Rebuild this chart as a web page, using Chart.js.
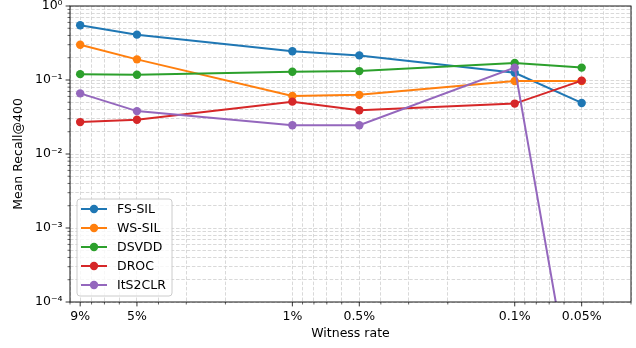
<!DOCTYPE html>
<html>
<head>
<meta charset="utf-8">
<script src="https://cdn.jsdelivr.net/npm/chart.js@4.4.1/dist/chart.umd.min.js"></script>
<style>html,body{margin:0;padding:0;background:#fff}</style>
</head>
<body>
<canvas id="c" width="636" height="348"></canvas>
<script>
// Witness rates (percent) and their axis labels
const witnessRates = [9, 5, 1, 0.5, 0.1, 0.05];
const witnessLabels = ['9%', '5%', '1%', '0.5%', '0.1%', '0.05%'];

// Mean Recall@400 per method
const methods = ['FS-SIL', 'WS-SIL', 'DSVDD', 'DROC', 'ItS2CLR'];
const fsSil   = [0.55, 0.41, 0.245, 0.215, 0.125, 0.049];
const wsSil   = [0.30, 0.19, 0.061, 0.063, 0.097, 0.097];
const dsvdd   = [0.12, 0.118, 0.129, 0.132, 0.17, 0.147];
const droc    = [0.027, 0.029, 0.051, 0.039, 0.048, 0.098];
const its2clr = [0.066, 0.038, 0.0245, 0.0245, 0.147, 1e-6];
const seriesValues = [fsSil, wsSil, dsvdd, droc, its2clr];

// Y axis decade ticks
const yTickValues = [1e-4, 1e-3, 1e-2, 1e-1, 1];
const yTickLabels = ['10\u207B\u2074', '10\u207B\u00B3', '10\u207B\u00B2', '10\u207B\u00B9', '10\u2070'];

const colors = ['#1f77b4', '#ff7f0e', '#2ca02c', '#d62728', '#9467bd'];
const FONT = 'DejaVu Sans';
const FS = 12.5;
const LINE_W = 2;
const MARK_R = 4.2;

const near = (a, b) => Math.abs(a - b) <= Math.abs(b) * 1e-6;

// All log-spaced tick positions (1..9 x 10^e) in [min, max], flagging the majors
function logTicks(min, max, majors) {
  const vals = [];
  for (let e = Math.floor(Math.log10(min)) - 1; e <= Math.ceil(Math.log10(max)); e++) {
    for (let s = 1; s <= 9; s++) {
      const v = +(s * Math.pow(10, e)).toPrecision(8);
      if (v >= min * (1 - 1e-9) && v <= max * (1 + 1e-9)) vals.push(v);
    }
  }
  majors.forEach(m => { if (!vals.some(v => near(v, m))) vals.push(m); });
  vals.sort((a, b) => a - b);
  return vals.map(v => ({ value: v, major: majors.some(m => near(v, m)) }));
}

const datasets = methods.map((name, i) => ({
  label: name,
  data: witnessRates.map((r, j) => ({ x: r, y: seriesValues[i][j] })),
  borderColor: colors[i],
  backgroundColor: colors[i],
  pointBackgroundColor: colors[i],
  pointBorderColor: colors[i],
  borderWidth: LINE_W,
  pointRadius: MARK_R,
  pointHoverRadius: MARK_R,
  pointBorderWidth: 0,
  tension: 0,
  clip: 0,
  order: methods.length - i
}));

// Full axes frame, tick marks and the inset legend
const axesDecor = {
  id: 'axesDecor',
  afterDatasetsDraw(chart) {
    const { ctx, chartArea: a, scales: { x, y } } = chart;
    ctx.save();
    ctx.strokeStyle = '#000';
    x.ticks.forEach(t => {
      const px = x.getPixelForValue(t.value);
      if (px < a.left - 0.5 || px > a.right + 0.5) return;
      ctx.lineWidth = t.major ? 0.8 : 0.6;
      ctx.beginPath();
      ctx.moveTo(px, a.bottom);
      ctx.lineTo(px, a.bottom + (t.major ? 4.4 : 2.5));
      ctx.stroke();
    });
    y.ticks.forEach(t => {
      const py = y.getPixelForValue(t.value);
      ctx.lineWidth = t.major ? 0.8 : 0.6;
      ctx.beginPath();
      ctx.moveTo(a.left, py);
      ctx.lineTo(a.left - (t.major ? 4.4 : 2.5), py);
      ctx.stroke();
    });
    ctx.lineWidth = 0.9;
    ctx.strokeRect(a.left, a.top, a.right - a.left, a.bottom - a.top);

    // legend box
    const rows = chart.data.datasets.length;
    const rowH = 19;
    const boxW = 95, boxH = rows * rowH + 2;
    const bx = a.left + 7, by = a.bottom - 6 - boxH;
    ctx.beginPath();
    ctx.roundRect(bx, by, boxW, boxH, 3);
    ctx.fillStyle = 'rgba(255,255,255,0.8)';
    ctx.fill();
    ctx.strokeStyle = '#cccccc';
    ctx.lineWidth = 1;
    ctx.stroke();
    ctx.font = FS + 'px "' + FONT + '"';
    ctx.textBaseline = 'middle';
    ctx.textAlign = 'left';
    chart.data.datasets.forEach((ds, i) => {
      const cy = by + 10 + i * rowH;
      ctx.strokeStyle = ds.borderColor;
      ctx.lineWidth = LINE_W;
      ctx.beginPath();
      ctx.moveTo(bx + 4, cy);
      ctx.lineTo(bx + 30, cy);
      ctx.stroke();
      ctx.fillStyle = ds.borderColor;
      ctx.beginPath();
      ctx.arc(bx + 17, cy, MARK_R, 0, Math.PI * 2);
      ctx.fill();
      ctx.fillStyle = '#000';
      ctx.fillText(ds.label, bx + 40, cy + 0.5);
    });
    ctx.restore();
  }
};

const gridCommon = {
  color: '#cfcfcf',
  lineWidth: 0.8,
  drawTicks: true,
  tickLength: 4.4,
  tickWidth: 0
};

new Chart(document.getElementById('c'), {
  type: 'line',
  data: { datasets },
  options: {
    responsive: false,
    animation: false,
    events: [],
    layout: { padding: { top: 6, right: 5, left: 0, bottom: 0 } },
    plugins: { legend: { display: false }, tooltip: { enabled: false } },
    scales: {
      x: {
        type: 'logarithmic',
        reverse: true,
        min: 0.03,
        max: 10,
        grid: gridCommon,
        border: { display: false, dash: [3.5, 1.8] },
        afterBuildTicks(scale) {
          scale.ticks = logTicks(0.03, 10, witnessRates);
        },
        afterFit(scale) {
          scale.height = 46;
          scale.paddingLeft = 0;
          scale.paddingRight = 0;
        },
        ticks: {
          autoSkip: false,
          maxRotation: 0,
          minRotation: 0,
          padding: 3,
          color: '#000',
          font: { family: FONT, size: FS },
          callback(value) {
            const i = witnessRates.findIndex(r => near(value, r));
            return i >= 0 ? witnessLabels[i] : '';
          }
        },
        title: {
          display: true,
          text: 'Witness rate',
          color: '#000',
          font: { family: FONT, size: FS },
          padding: { top: 0, bottom: 6.5 }
        }
      },
      y: {
        type: 'logarithmic',
        min: 1e-4,
        max: 1,
        grid: gridCommon,
        border: { display: false, dash: [3.5, 1.8] },
        afterBuildTicks(scale) {
          scale.ticks = logTicks(1e-4, 1, yTickValues);
        },
        afterFit(scale) {
          scale.width = 70;
          scale.paddingTop = 0;
          scale.paddingBottom = 0;
        },
        ticks: {
          autoSkip: false,
          padding: 3,
          color: '#000',
          font: { family: FONT, size: FS },
          callback(value) {
            const i = yTickValues.findIndex(v => near(value, v));
            return i >= 0 ? yTickLabels[i] : '';
          }
        },
        title: {
          display: true,
          text: 'Mean Recall@400',
          color: '#000',
          font: { family: FONT, size: FS },
          padding: { top: 11.5, bottom: 0 }
        }
      }
    }
  },
  plugins: [axesDecor]
});
</script>
</body>
</html>
